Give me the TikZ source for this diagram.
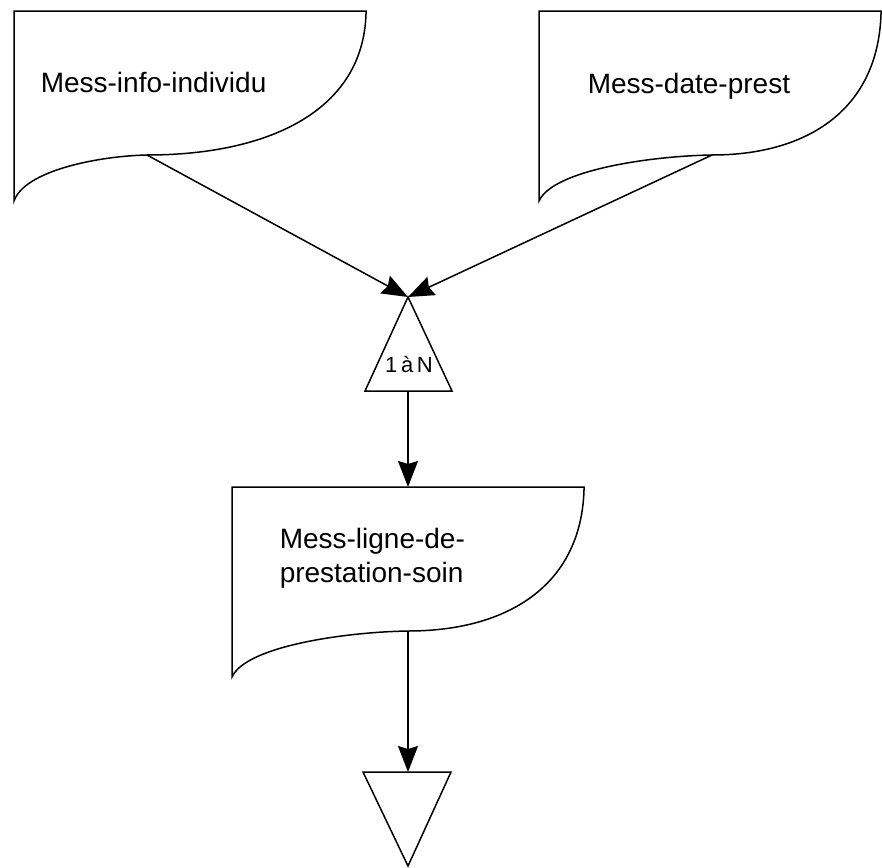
\documentclass[tikz,border=0pt]{standalone}
\usepackage{fontspec}
\setmainfont{Liberation Sans}
\usetikzlibrary{arrows.meta}

\begin{document}
\begin{tikzpicture}[x=0.5pt,y=-0.5pt,->,>={Stealth[length=13pt,width=10pt,inset=1.5pt]},line width=0.75pt,
  msg/.style={-,draw,fill=white},
  lbl/.style={font=\fontsize{14}{17}\selectfont,inner sep=0pt,anchor=base west},
  card/.style={font=\fontsize{11}{12}\selectfont,inner sep=0pt,anchor=base}]
  \useasboundingbox (0,0) rectangle (882,867);

  % messages
  \draw[msg] (14,11) -- (366,11) -- (366,14) .. controls (363,110) and (270,155) .. (147,155)
    .. controls (100,156) and (25,170) .. (14,201) -- cycle;
  \draw[msg] (539,11) -- (881,11) -- (881,14) .. controls (878,110) and (807,155) .. (712,155)
    .. controls (651,156) and (553,170) .. (539,201) -- cycle;
  \draw[msg] (232,487) -- (584,487) -- (584,490) .. controls (581,586) and (507,631) .. (408,631)
    .. controls (346,632) and (246,646) .. (232,677) -- cycle;
  \node[lbl] (info) at (40,92) {Mess-info-individu};
  \node[lbl] (date) at (587,93) {Mess-date-prest};
  \node[lbl,align=left,anchor=west] (ligne) at (279,558) {Mess-ligne-de-\\prestation-soin};

  % triangles
  \draw[msg] (408,297) -- (452,391) -- (365,391) -- cycle;
  \node[card] (card) at (409,372) {1\,à\,N};
  \draw[msg] (363,772) -- (451,772) -- (408,866) -- cycle;

  \coordinate (m1) at (147,155);
  \coordinate (m2) at (712,155);
  \coordinate (m3in) at (408,487);
  \coordinate (m3out) at (408,631);
  \coordinate (split) at (408,297);
  \coordinate (splitb) at (408,391);
  \coordinate (stop) at (408,772);

  \draw (m1) -- (split);
  \draw (m2) -- (split);
  \draw (splitb) -- (m3in);
  \draw (m3out) -- (stop);
\end{tikzpicture}
\end{document}
